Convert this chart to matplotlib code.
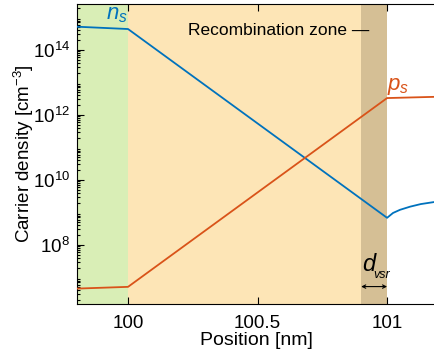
import matplotlib.pyplot as plt
from matplotlib.ticker import LogLocator, FixedLocator, NullFormatter

plt.rcParams['font.family'] = ['Liberation Sans', 'DejaVu Sans']
plt.rcParams['mathtext.fontset'] = 'custom'
plt.rcParams['mathtext.rm'] = 'Liberation Sans'
plt.rcParams['mathtext.it'] = 'Liberation Sans:italic'

# electron density n_s
n_x = [99.80, 100.0, 101.0, 101.023, 101.05, 101.089, 101.13, 101.185]
n_y = [5.2e14, 4.4e14, 6.8e8, 9.6e8, 1.2e9, 1.5e9, 1.8e9, 2.1e9]

# hole density p_s
p_x = [99.80, 100.0, 101.0, 101.185]
p_y = [4.5e6, 5.1e6, 3.3e12, 3.6e12]

# regions (x limits)
green_zone = (99.80, 100.0)
recomb_zone = (100.0, 100.9)
vsr_zone = (100.9, 101.0)

x_ticks = [100, 100.5, 101]
x_labels = ["100", "100.5", "101"]
y_ticks = [1e8, 1e10, 1e12, 1e14]

blue = "#0072BD"
orange = "#D95319"

fig = plt.figure(figsize=(4.35, 3.6), dpi=100)
ax = fig.add_axes([0.177, 0.156, 0.823, 0.833])

ax.axvspan(*green_zone, color="#d9eeb6", lw=0, zorder=0)
ax.axvspan(*recomb_zone, color="#fde5b6", lw=0, zorder=0)
ax.axvspan(*vsr_zone, color="#d5bf95", lw=0, zorder=0)

ax.plot(n_x, n_y, color=blue, lw=1.3, zorder=3)
ax.plot(p_x, p_y, color=orange, lw=1.3, zorder=3)

ax.set_yscale("log")
ax.set_xlim(99.803, 101.185)
ax.set_ylim(1.53e6, 2.6e15)

ax.xaxis.set_major_locator(FixedLocator(x_ticks))
ax.set_xticklabels(x_labels)
ax.yaxis.set_major_locator(FixedLocator(y_ticks))
ax.yaxis.set_minor_locator(LogLocator(base=10, subs=range(2, 10), numticks=50))
ax.yaxis.set_minor_formatter(NullFormatter())
ax.tick_params(which="both", direction="in", top=True, labelsize=13.5, width=0.8)
ax.tick_params(which="major", length=5)
ax.tick_params(which="minor", length=2.5)
ax.tick_params(axis="x", which="major", pad=8)
ax.tick_params(axis="y", which="major", pad=5)
ax.spines["right"].set_visible(False)

ax.set_xlabel("Position [nm]", fontsize=14, labelpad=0)
ax.set_ylabel("Carrier density [cm$^{-3}$]", fontsize=13.5, labelpad=-2)

ax.text(100.23, 4.0e14, "Recombination zone \u2014", fontsize=12.5, ha="left", va="center")
ax.text(99.998, 1.25e15, "$n_s$", color=blue, fontsize=16, ha="right", va="center")
ax.text(101.0, 7.5e12, "$p_s$", color=orange, fontsize=16, ha="left", va="center")
ax.text(100.905, 2.5e7, "d", fontsize=17, style="italic", ha="left", va="center")
ax.text(100.947, 1.15e7, "vsr", fontsize=9, style="italic", ha="left", va="center")
ax.annotate("", xy=(100.9, 5.2e6), xytext=(101.0, 5.2e6),
            arrowprops=dict(arrowstyle="<->", lw=0.8, color="black",
                            shrinkA=0, shrinkB=0, mutation_scale=6))

fig.savefig("out.png", dpi=100)
